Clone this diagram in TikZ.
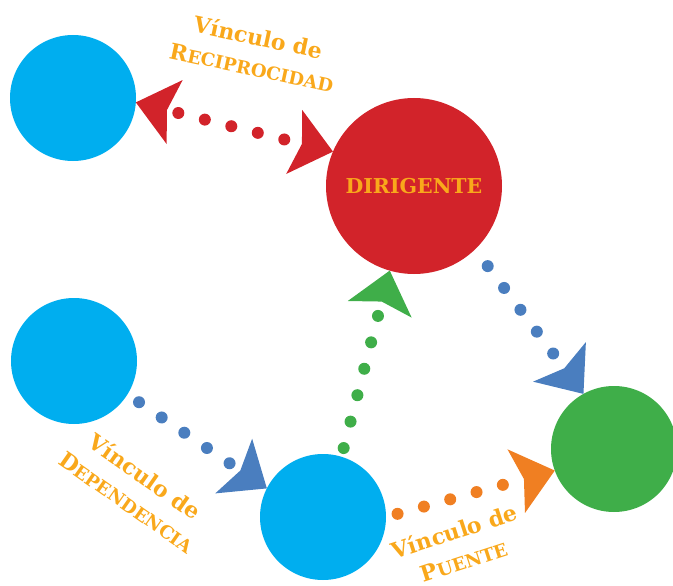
\documentclass[tikz,border=0pt]{standalone}
\usepackage{fontspec}
\setmainfont{DejaVu Serif}
\usetikzlibrary{arrows.meta}
\definecolor{skyblue}{HTML}{00AEEF}
\definecolor{leadred}{HTML}{D2232A}
\definecolor{leafgreen}{HTML}{3FAE49}
\definecolor{steelblue}{HTML}{4A7EBF}
\definecolor{tangerine}{HTML}{F07F22}
\definecolor{amber}{HTML}{F9A81B}
\newcommand\minicaps[2]{#1{\fontsize{18}{31}\selectfont #2}}

\begin{document}
\begin{tikzpicture}[x=1pt,y=-1pt,>={Stealth[length=40pt,width=66pt,inset=8pt,line width=0pt]}]
   \useasboundingbox (0,0) rectangle (673,586);
   \tikzstyle{ball}=[circle, inner sep=0pt, outer sep=0pt]
   \tikzstyle{dots}=[line width=12pt, line cap=round, dash pattern=on 0pt off 27.3pt]
   \tikzstyle{tag}=[text=amber, font=\bfseries\fontsize{22}{31}\selectfont, align=center, inner sep=0pt]
   \foreach \name/\x/\y in {partner/73/98, follower/74/361, broker/323/517}
       \node[ball, minimum size=126pt, fill=skyblue] (\name) at (\x,\y) {};
   \node[ball, minimum size=176pt, fill=leadred, text=amber, font=\bfseries\fontsize{20.5}{26}\selectfont] (leader) at (414,186) {DIRIGENTE};
   \node[ball, minimum size=126pt, fill=leafgreen] (outsider) at (614,449) {};
   % links
   \path (partner.-4) edge[dots, <->, draw=leadred, dash phase=15.5pt] (leader.157);
   \path (leader.-46) edge[dots, ->, draw=steelblue, shorten <=21pt] (outsider.119);
   \path (follower.-32) edge[dots, ->, draw=steelblue, shorten <=14pt] (broker.153);
   \path (broker.73) edge[dots, ->, draw=leafgreen, shorten <=9pt] (leader.-106);
   \path (broker.0) edge[dots, ->, draw=tangerine, shorten <=12pt] (outsider.-160);
   % labels
   \node[tag, rotate=-12] (reciprocity) at (255,52) {Vínculo de\\\minicaps{R}{ECIPROCIDAD}};
   \node[tag, rotate=-35] (dependency) at (136,489) {Vínculo de\\\minicaps{D}{EPENDENCIA}};
   \node[tag, rotate=18] (bridge) at (459,546) {Vínculo de\\\minicaps{P}{UENTE}};
\end{tikzpicture}
\end{document}
